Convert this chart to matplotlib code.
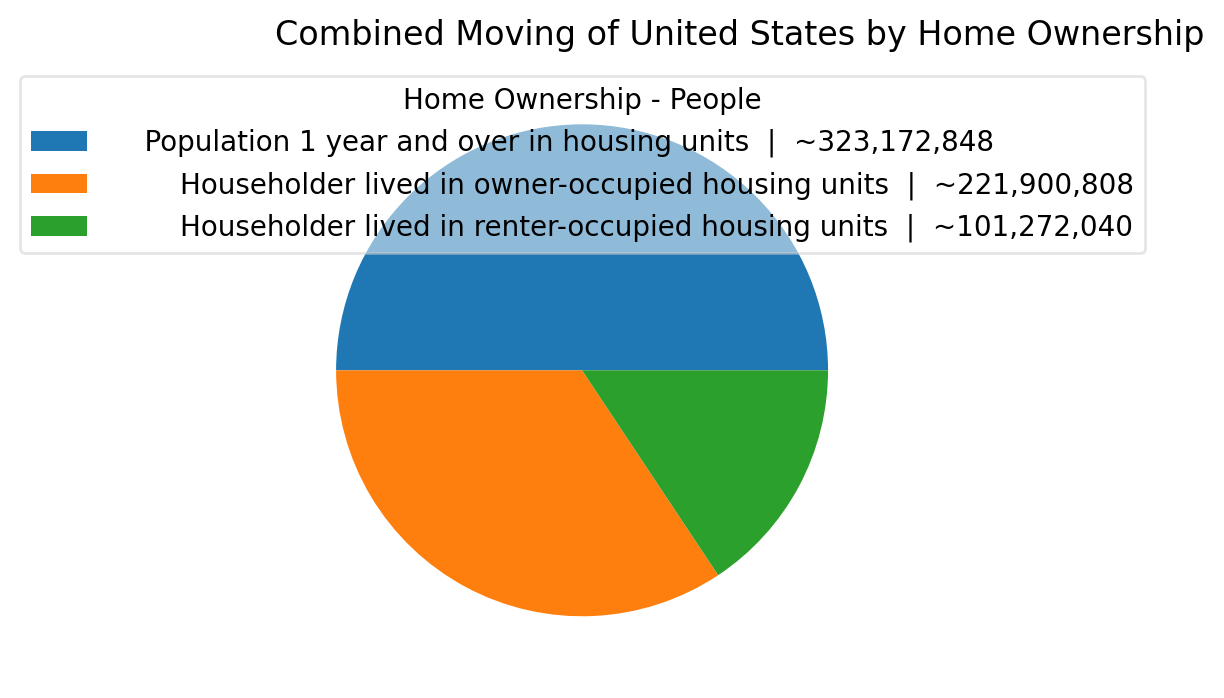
import matplotlib
matplotlib.use("Agg")
import matplotlib.pyplot as plt

# data
categories = [
    "Population 1 year and over in housing units",
    "Householder lived in owner-occupied housing units",
    "Householder lived in renter-occupied housing units",
]
people = [323172848, 221900808, 101272040]
pads = [4, 8, 8]  # leading spaces in the legend labels

fig = plt.figure(figsize=(6.12, 3.49), dpi=200)
ax = fig.add_axes([0.2243, 0.029, 0.5025, 0.881])

wedges, _ = ax.pie(people)

labels = [" " * p + f"{c}  |  ~{v:,}" for p, c, v in zip(pads, categories, people)]
fig.legend(wedges, labels, title="Home Ownership - People",
           loc="upper left", bbox_to_anchor=(0.0164, 0.8912),
           bbox_transform=fig.transFigure, borderaxespad=0, framealpha=0.5)

fig.text(0.604, 0.9355, "Combined Moving of United States by Home Ownership",
         ha="center", va="baseline", fontsize=12)

fig.savefig("out.png", dpi=200)
